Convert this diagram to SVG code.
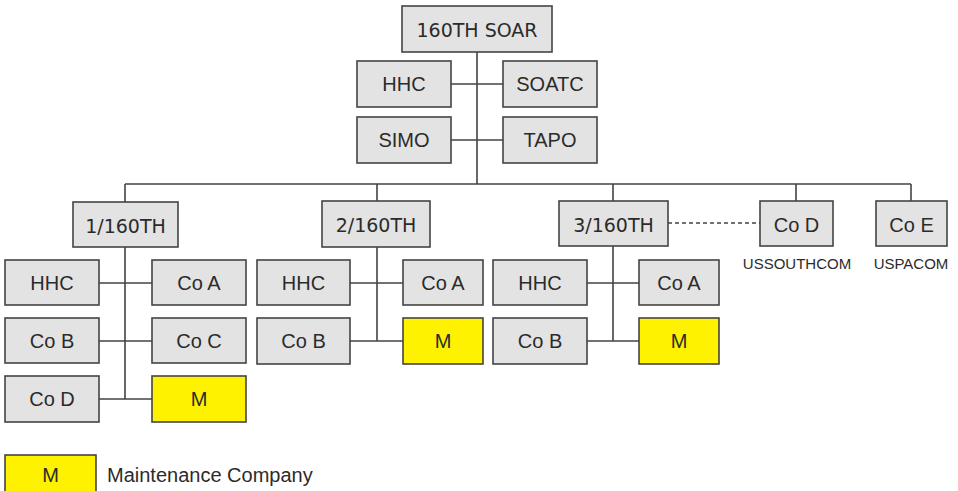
<svg xmlns="http://www.w3.org/2000/svg" width="958" height="491" viewBox="0 0 958 491">
<style>
.b{fill:#e3e3e3;stroke:#444;stroke-width:1.6}
.y{fill:#fff200;stroke:#444;stroke-width:1.6}
.t{font-family:"Liberation Sans",Arial,sans-serif;font-size:20px;fill:#2b2b2b;text-anchor:middle}
.u{font-family:"DejaVu Sans","Liberation Sans",sans-serif;font-size:19px;fill:#2b2b2b;text-anchor:middle}
.s{font-family:"Liberation Sans",Arial,sans-serif;font-size:15px;fill:#2b2b2b;text-anchor:middle}
.c{fill:none;stroke:#444;stroke-width:1.6}
.d{fill:none;stroke:#444;stroke-width:1.6;stroke-dasharray:4 3}
</style>
<rect width="958" height="491" fill="#fff"/>
<g id="connectors">
<path class="c" d="M477 52V184M451 84H503M451 140H503M125 184H911M125 184V202M377 184V201M613 184V201M796 184V201M911 184V201"/>
<path class="c" d="M125 247V399M99 283H152M99 341H152M99 399H152"/>
<path class="c" d="M377 247V341M350 283H403M350 341H403"/>
<path class="c" d="M613 246V341M587 283H639M587 341H639"/>
<path class="d" d="M668 223H760"/>
</g>
<g id="soar"><rect class="b" x="402" y="6" width="150" height="46"/><text class="u" x="477" y="37">160TH SOAR</text></g>
<g id="hhc"><rect class="b" x="357" y="61" width="94" height="46"/><text class="t" x="404" y="91">HHC</text></g>
<g id="soatc"><rect class="b" x="503" y="61" width="94" height="46"/><text class="t" x="550" y="91">SOATC</text></g>
<g id="simo"><rect class="b" x="357" y="117" width="94" height="46"/><text class="t" x="404" y="147">SIMO</text></g>
<g id="tapo"><rect class="b" x="503" y="117" width="94" height="46"/><text class="t" x="550" y="147">TAPO</text></g>

<g id="b1"><rect class="b" x="73" y="202" width="105" height="45"/><text class="u" x="125.5" y="233">1/160TH</text></g>
<g id="b1-hhc"><rect class="b" x="5" y="260" width="94" height="45"/><text class="t" x="52" y="290">HHC</text></g>
<g id="b1-coa"><rect class="b" x="152" y="260" width="94" height="45"/><text class="t" x="199" y="290">Co A</text></g>
<g id="b1-cob"><rect class="b" x="5" y="318" width="94" height="45"/><text class="t" x="52" y="348">Co B</text></g>
<g id="b1-coc"><rect class="b" x="152" y="318" width="94" height="45"/><text class="t" x="199" y="348">Co C</text></g>
<g id="b1-cod"><rect class="b" x="5" y="376" width="94" height="46"/><text class="t" x="52" y="406">Co D</text></g>
<g id="b1-m"><rect class="y" x="152" y="376" width="94" height="46"/><text class="t" x="199" y="406">M</text></g>

<g id="b2"><rect class="b" x="322" y="201" width="108" height="46"/><text class="u" x="376" y="232">2/160TH</text></g>
<g id="b2-hhc"><rect class="b" x="257" y="260" width="93" height="45"/><text class="t" x="303.5" y="290">HHC</text></g>
<g id="b2-coa"><rect class="b" x="403" y="260" width="80" height="45"/><text class="t" x="443" y="290">Co A</text></g>
<g id="b2-cob"><rect class="b" x="257" y="318" width="93" height="46"/><text class="t" x="303.5" y="348">Co B</text></g>
<g id="b2-m"><rect class="y" x="403" y="318" width="80" height="46"/><text class="t" x="443" y="348">M</text></g>

<g id="b3"><rect class="b" x="559" y="201" width="109" height="45"/><text class="u" x="613.5" y="232">3/160TH</text></g>
<g id="b3-hhc"><rect class="b" x="493" y="260" width="94" height="45"/><text class="t" x="540" y="290">HHC</text></g>
<g id="b3-coa"><rect class="b" x="639" y="260" width="80" height="45"/><text class="t" x="679" y="290">Co A</text></g>
<g id="b3-cob"><rect class="b" x="493" y="318" width="94" height="46"/><text class="t" x="540" y="348">Co B</text></g>
<g id="b3-m"><rect class="y" x="639" y="318" width="80" height="46"/><text class="t" x="679" y="348">M</text></g>

<g id="cod"><rect class="b" x="760" y="201" width="73" height="45"/><text class="t" x="796.5" y="232">Co D</text><text class="s" x="797" y="269">USSOUTHCOM</text></g>
<g id="coe"><rect class="b" x="876" y="201" width="71" height="45"/><text class="t" x="911.5" y="232">Co E</text><text class="s" x="911" y="269">USPACOM</text></g>

<g id="legend"><rect class="y" x="5" y="455" width="91" height="42"/><text class="t" x="50.5" y="482">M</text><text class="t" x="107" y="482" style="text-anchor:start">Maintenance Company</text></g>
</svg>
